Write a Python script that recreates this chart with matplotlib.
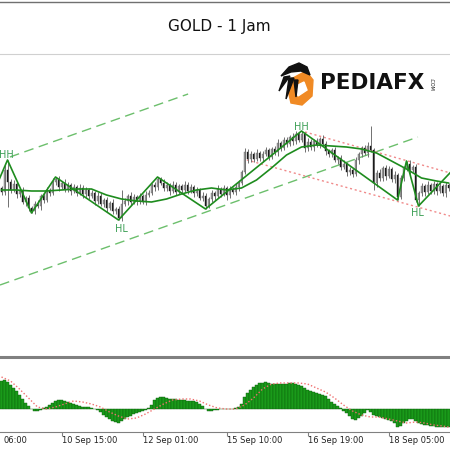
import matplotlib
matplotlib.use("Agg")
import matplotlib.pyplot as plt
import numpy as np
from matplotlib.patches import Polygon
from matplotlib.transforms import blended_transform_factory

# ---- data ----
first_open = 2532
closes = [2528, 2550, 2538, 2530, 2536, 2526, 2529, 2518, 2522, 2512,
          2509, 2516, 2514, 2524, 2520, 2530, 2527, 2538, 2541, 2533,
          2537, 2531, 2535, 2529, 2533, 2527, 2532, 2526, 2530, 2524,
          2527, 2519, 2524, 2516, 2520, 2512, 2517, 2509, 2511, 2502,
          2516, 2519, 2524, 2518, 2523, 2519, 2524, 2518, 2525, 2527,
          2535, 2533, 2541, 2537, 2532, 2535, 2529, 2535, 2528, 2534,
          2530, 2535, 2529, 2533, 2527, 2530, 2522, 2524, 2514, 2521,
          2527, 2524, 2531, 2526, 2532, 2525, 2531, 2528, 2533, 2537,
          2548, 2568, 2561, 2566, 2561, 2567, 2562, 2566, 2570, 2563,
          2571, 2568, 2577, 2572, 2580, 2576, 2583, 2579, 2586, 2580,
          2586, 2572, 2578, 2573, 2579, 2575, 2581, 2576, 2569, 2566,
          2570, 2560, 2562, 2553, 2556, 2548, 2550, 2546, 2560, 2566,
          2572, 2567, 2574, 2570, 2537, 2547, 2542, 2552, 2544, 2551,
          2541, 2545, 2523, 2542, 2552, 2556, 2550, 2553, 2520, 2527,
          2534, 2528, 2535, 2529, 2536, 2529, 2534, 2527, 2535, 2532]
wick_up = [2, 5, 10, 3, 4, 2, 3, 4, 2, 3, 2, 3, 4, 2, 3, 3, 2, 4, 2, 3,
           2, 4, 3, 2, 3, 2, 4, 3, 3, 2, 3, 2, 4, 3, 2, 3, 2, 4, 2, 3,
           14, 3, 2, 4, 3, 2, 3, 2, 4, 3, 2, 3, 2, 2, 4, 3, 2, 4, 3, 2,
           2, 4, 3, 3, 2, 3, 2, 4, 3, 2, 3, 2, 4, 2, 3, 2, 3, 2, 4, 3,
           2, 4, 3, 3, 2, 4, 2, 3, 3, 2, 2, 3, 4, 2, 3, 3, 2, 4, 3, 2,
           3, 2, 4, 3, 2, 3, 2, 4, 3, 2, 2, 3, 2, 3, 4, 2, 3, 2, 3, 2,
           2, 3, 4, 20, 2, 3, 4, 2, 3, 3, 2, 4, 2, 3, 2, 3, 4, 2, 3, 2,
           3, 2, 4, 2, 3, 2, 4, 2, 3, 2]
wick_dn = [3, 3, 25, 3, 2, 4, 3, 2, 4, 3, 2, 3, 2, 4, 3, 2, 3, 2, 3, 4,
           2, 3, 3, 4, 2, 3, 2, 4, 3, 3, 2, 4, 3, 2, 3, 4, 2, 3, 3, 2,
           3, 2, 4, 3, 2, 4, 3, 2, 3, 2, 2, 4, 3, 2, 3, 3, 4, 2, 3, 2,
           4, 2, 3, 2, 4, 3, 2, 3, 3, 2, 3, 4, 2, 3, 2, 5, 3, 2, 3, 4,
           2, 2, 4, 3, 3, 2, 3, 4, 2, 3, 2, 3, 4, 3, 2, 3, 2, 4, 3, 2,
           2, 4, 3, 3, 4, 2, 3, 2, 4, 3, 3, 2, 4, 3, 2, 4, 3, 3, 2, 4,
           3, 2, 4, 2, 7, 4, 3, 3, 4, 2, 3, 4, 3, 2, 3, 3, 4, 2, 2, 6,
           3, 4, 2, 3, 3, 4, 2, 3, 4, 3]

# zigzag swing points (bar index, price)
zz_idx = [-3, 2, 10, 18, 39, 52, 68, 100, 132, 135, 139, 152]
zz_val = [2525, 2560, 2507, 2543, 2500, 2543, 2511, 2589, 2520, 2559, 2514, 2555]
zz_tags = [(1.5, 2565, "HH"), (40, 2491, "HL"), (100, 2593.5, "HH"), (138.5, 2507.5, "HL")]

# moving average
ma_idx = [0, 5, 10, 15, 20, 25, 30, 35, 40, 45, 50, 55, 60, 65, 70, 75,
          80, 85, 90, 95, 100, 105, 110, 115, 120, 125, 130, 135, 140, 145, 149]
ma_val = [2530, 2530, 2529, 2529, 2530, 2531, 2531, 2525, 2521, 2519, 2518,
          2521, 2526, 2530, 2532, 2530, 2532, 2540, 2552, 2565, 2573, 2575,
          2574, 2573, 2571, 2567, 2559, 2551, 2542, 2539, 2537]

# channels
up_chan = ([2.8, 62.2], [2563, 2626])
lo_chan = ([-0.5, 138.8], [2435, 2583])
red_up = ([101.2, 152], [2588, 2545])
red_lo = ([81.8, 152], [2560, 2502])

# MACD histogram and signal
hist = [28, 29, 27, 24, 21, 18, 14, 10, 6, 3, 0, -2, -2, -1, 1, 2, 4, 6, 8, 9,
        9, 8, 7, 6, 5, 4, 3, 2, 2, 2, 1, 0, -1, -3, -6, -8, -10, -12, -13, -14,
        -12, -10, -8, -7, -5, -4, -3, -2, -1, 1, 4, 9, 11, 12, 12, 11, 10, 10, 10, 9,
        9, 9, 8, 8, 8, 7, 5, 3, 0, -2, -2, -1, -1, 0, 0, 0, 0, 0, 1, 2,
        5, 12, 16, 19, 22, 24, 26, 26, 27, 26, 25, 25, 25, 25, 25, 25, 26, 26, 25, 24,
        23, 21, 19, 18, 17, 16, 15, 14, 13, 10, 7, 5, 3, 1, -2, -4, -7, -10, -11, -9,
        -7, -4, -1, -3, -6, -7, -8, -9, -10, -11, -12, -14, -18, -17, -14, -12, -10, -10, -12, -14,
        -15, -16, -16, -17, -17, -18, -18, -18, -18, -18]
sig_idx = [0, 3, 6, 9, 12, 15, 18, 21, 24, 27, 30, 33, 36, 39, 42, 45, 48, 51,
           54, 57, 60, 63, 66, 69, 72, 75, 78, 81, 84, 87, 90, 93, 96, 99, 102,
           105, 108, 111, 114, 117, 120, 123, 126, 129, 132, 135, 138, 141, 144, 147, 149]
sig_val = [32, 28, 20, 11, 2, 0, 2, 5, 8, 7, 5, 2, -3, -7, -10, -9, -5, 0,
           5, 9, 10, 10, 8, 4, 1, 0, 0, 4, 11, 20, 25, 26, 26, 26, 25,
           21, 17, 11, 4, -2, -6, -8, -8, -10, -12, -14, -13, -14, -16, -17, -18]

tick_pos = [20, 47, 75, 102, 129]
tick_labels = ["10 Sep 15:00", "12 Sep 01:00", "15 Sep 10:00",
               "16 Sep 19:00", "18 Sep 05:00"]
cut_label = "06:00"  # tail of "9 Sep 06:00", its tick is off the left edge

title = "GOLD - 1 Jam"

# ---- figure ----
fig = plt.figure(figsize=(4.5, 4.5), dpi=100)
fig.patch.set_facecolor("white")

ax = fig.add_axes([0, 1 - 355 / 450, 1, 302 / 450])
ax2 = fig.add_axes([0, 1 - 432 / 450, 1, 74 / 450])

n = len(closes)
x = np.arange(n)
c = np.array(closes, dtype=float)
o = np.concatenate([[first_open], c[:-1]])
top = np.maximum(o, c)
bot = np.minimum(o, c)
hi = top + np.array(wick_up)
lo = bot - np.array(wick_dn)

# channel lines
ax.plot(*up_chan, color="#6cbf6c", lw=1, dashes=(7, 4), zorder=1)
ax.plot(*lo_chan, color="#6cbf6c", lw=1, dashes=(7, 4), zorder=1)
ax.plot(*red_up, color="#f08a8a", lw=1, ls=(0, (1.5, 2)), zorder=1)
ax.plot(*red_lo, color="#f08a8a", lw=1, ls=(0, (1.5, 2)), zorder=1)

# candles
ax.vlines(x, lo, hi, color="#707070", lw=0.7, zorder=2)
bull = c >= o
body_h = np.maximum(top - bot, 0.8)
ax.bar(x[bull], body_h[bull], bottom=bot[bull], width=0.55,
       color="#a8a8a8", edgecolor="#707070", lw=0.3, zorder=2)
ax.bar(x[~bull], body_h[~bull], bottom=bot[~bull], width=0.55,
       color="#1a1a1a", edgecolor="#1a1a1a", lw=0.3, zorder=2)

# zigzag and MA
ax.plot(ma_idx, ma_val, color="#1e8c1e", lw=1.2, zorder=3)
ax.plot(zz_idx, zz_val, color="#1e8c1e", lw=1.2, zorder=3)
for xi, yi, t in zz_tags:
    ax.text(xi, yi, t, color="#3c9f55", fontsize=7, ha="center", va="center", zorder=4)

ax.set_xlim(-0.5, n - 0.5)
ax.set_ylim(2365, 2667)
ax.axis("off")

# MACD panel
ax2.bar(x, hist, width=0.72, color="#1a9a1a", edgecolor="#0b5d0b", lw=0.3)
ax2.plot(sig_idx, sig_val, color="#f07070", lw=1, ls=(0, (1, 1.5)))
ax2.set_xlim(-0.5, n - 0.5)
ax2.set_ylim(-23, 51)
ax2.set_yticks([])
for s in ["top", "left", "right"]:
    ax2.spines[s].set_visible(False)
ax2.spines["bottom"].set_color("#808080")
ax2.set_xticks(tick_pos)
ax2.set_xticklabels([])
ax2.tick_params(axis="x", direction="out", length=3, color="#808080")
tr = blended_transform_factory(ax2.transData, ax2.transAxes)
for p, lab in zip(tick_pos, tick_labels):
    ax2.text(p + 0.3, -0.06, lab, transform=tr, ha="left", va="top",
             fontsize=6, color="#222222", clip_on=False)
ax2.text(0.007, -0.06, cut_label, transform=ax2.transAxes, ha="left", va="top",
         fontsize=6, color="#222222", clip_on=False)

# overlay: frame lines, title, logo (pixel coordinates)
ov = fig.add_axes([0, 0, 1, 1], zorder=5)
ov.set_xlim(0, 450)
ov.set_ylim(450, 0)
ov.axis("off")
ov.plot([0, 450], [1.5, 1.5], color="#707070", lw=1)
ov.plot([0, 450], [53.5, 53.5], color="#d0d0d0", lw=0.8)
ov.plot([0, 450], [356.5, 356.5], color="#808080", lw=2.2)
ov.text(219, 27, title, fontsize=11, ha="center", va="center", color="#111111")

orange = Polygon([(293, 78), (306, 71), (313, 80), (312, 96), (302, 105),
                  (291, 103), (288, 90)], closed=True, color="#f08a24")
ov.add_patch(orange)
ov.add_patch(Polygon([(296, 86), (304, 82), (307, 90), (298, 96)], closed=True, color="white"))
ov.add_patch(Polygon([(281, 76), (289, 67), (299, 63), (307, 67), (310, 75),
                      (301, 71), (291, 72)], closed=True, color="#111111"))
ov.add_patch(Polygon([(284, 77), (290, 76), (279, 91)], closed=True, color="#111111"))
ov.add_patch(Polygon([(289, 78), (294, 78), (286, 99)], closed=True, color="#111111"))
ov.add_patch(Polygon([(294, 80), (298, 80), (296, 97)], closed=True, color="#111111"))
ov.text(320, 83, "PEDIAFX", fontsize=15.5, fontweight="bold", ha="left",
        va="center", color="#111111")
ov.text(431, 84, ".COM", fontsize=3.5, rotation=-90, ha="center", va="center",
        color="#111111")

fig.savefig("out.png", dpi=100, facecolor="white")
